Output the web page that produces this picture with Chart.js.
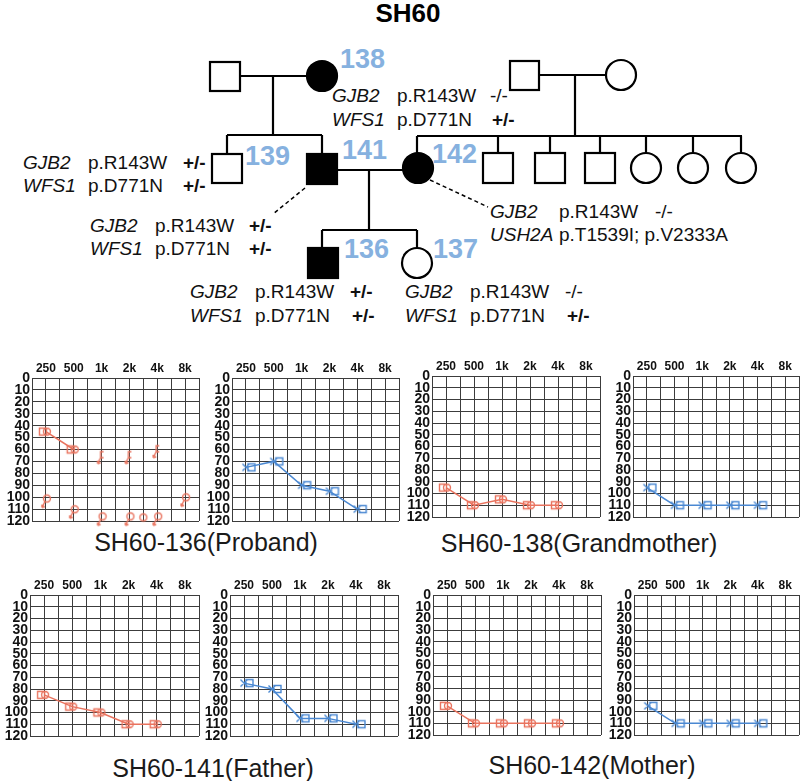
<!DOCTYPE html>
<html>
<head>
<meta charset="utf-8">
<script src="https://cdn.jsdelivr.net/npm/chart.js@4.4.1/dist/chart.umd.min.js"></script>
<style>
body { margin: 0; background: #fff; }
#page { position: relative; width: 800px; height: 781px; overflow: hidden; font-family: "Liberation Sans", Arial, sans-serif; }
#page svg { position: absolute; left: 0; top: 0; }
#page canvas { position: absolute; }
.g { font-style: italic; }
.b { font-weight: bold; }
.id { font-weight: bold; font-size: 27px; fill: #86b1df; }
</style>
</head>
<body>
<div id="page">
<svg width="800" height="781" font-family="Liberation Sans, Arial, sans-serif">
  <text x="408" y="22" text-anchor="middle" font-size="26" font-weight="bold">SH60</text>

  <g stroke="#000" stroke-width="2.2" fill="none">
    <!-- generation I -->
    <rect x="210" y="62" width="30" height="29" fill="#fff"/>
    <circle cx="322" cy="76" r="15" fill="#000"/>
    <line x1="240" y1="76" x2="307" y2="76"/>
    <line x1="273" y1="76" x2="273" y2="135"/>
    <line x1="227" y1="135" x2="322" y2="135"/>
    <line x1="227" y1="135" x2="227" y2="154"/>
    <line x1="322" y1="135" x2="322" y2="154"/>

    <rect x="510" y="61" width="29" height="29" fill="#fff"/>
    <circle cx="621" cy="75" r="15" fill="#fff"/>
    <line x1="539" y1="75" x2="606" y2="75"/>
    <line x1="575" y1="75" x2="575" y2="136"/>
    <line x1="417" y1="136" x2="742" y2="136"/>
    <line x1="417" y1="136" x2="417" y2="153"/>
    <line x1="498" y1="136" x2="498" y2="153"/>
    <line x1="550" y1="136" x2="550" y2="153"/>
    <line x1="600" y1="136" x2="600" y2="153"/>
    <line x1="646" y1="136" x2="646" y2="153"/>
    <line x1="693" y1="136" x2="693" y2="153"/>
    <line x1="741" y1="136" x2="741" y2="153"/>

    <!-- generation II -->
    <rect x="212" y="154" width="30" height="29" fill="#fff"/>
    <rect x="307" y="154" width="30" height="30" fill="#000"/>
    <circle cx="418" cy="168" r="15" fill="#000"/>
    <rect x="483" y="153" width="30" height="30" fill="#fff"/>
    <rect x="535" y="153" width="30" height="30" fill="#fff"/>
    <rect x="585" y="153" width="30" height="30" fill="#fff"/>
    <circle cx="646" cy="168" r="15" fill="#fff"/>
    <circle cx="693" cy="168" r="15" fill="#fff"/>
    <circle cx="741" cy="168" r="15" fill="#fff"/>
    <line x1="337" y1="170" x2="403" y2="170"/>
    <line x1="369" y1="170" x2="369" y2="230"/>
    <line x1="322" y1="230" x2="417" y2="230"/>
    <line x1="322" y1="230" x2="322" y2="248"/>
    <line x1="417" y1="230" x2="417" y2="248"/>

    <!-- generation III -->
    <rect x="308" y="248" width="30" height="30" fill="#000"/>
    <circle cx="417" cy="263" r="15" fill="#fff"/>

    <line x1="305" y1="188" x2="273" y2="214" stroke-width="1.5" stroke-dasharray="4,3"/>
    <line x1="430" y1="180" x2="488" y2="207" stroke-width="1.5" stroke-dasharray="4,3"/>
  </g>

  <text class="id" x="340" y="68">138</text>
  <text class="id" x="245" y="165">139</text>
  <text class="id" x="342" y="159">141</text>
  <text class="id" x="432" y="163">142</text>
  <text class="id" x="344" y="258">136</text>
  <text class="id" x="433" y="258">137</text>

  <g font-size="19" fill="#111">
    <text class="g" x="332" y="102">GJB2</text><text x="397" y="102">p.R143W</text><text x="490" y="102">-/-</text>
    <text class="g" x="332" y="126">WFS1</text><text x="397" y="126">p.D771N</text><text class="b" x="492" y="126">+/-</text>

    <text class="g" x="23" y="169">GJB2</text><text x="88" y="169">p.R143W</text><text class="b" x="183" y="169">+/-</text>
    <text class="g" x="23" y="192">WFS1</text><text x="88" y="192">p.D771N</text><text class="b" x="183" y="192">+/-</text>

    <text class="g" x="90" y="232">GJB2</text><text x="155" y="232">p.R143W</text><text class="b" x="249" y="232">+/-</text>
    <text class="g" x="90" y="255">WFS1</text><text x="155" y="255">p.D771N</text><text class="b" x="249" y="255">+/-</text>

    <text class="g" x="490" y="218">GJB2</text><text x="559" y="218">p.R143W</text><text x="655" y="218">-/-</text>
    <text class="g" x="490" y="241">USH2A</text><text x="559" y="241">p.T1539I; p.V2333A</text>

    <text class="g" x="190" y="298">GJB2</text><text x="255" y="298">p.R143W</text><text class="b" x="350" y="298">+/-</text>
    <text class="g" x="190" y="322">WFS1</text><text x="255" y="322">p.D771N</text><text class="b" x="352" y="322">+/-</text>

    <text class="g" x="405" y="298">GJB2</text><text x="470" y="298">p.R143W</text><text x="565" y="298">-/-</text>
    <text class="g" x="405" y="322">WFS1</text><text x="470" y="322">p.D771N</text><text class="b" x="567" y="322">+/-</text>
  </g>

  <g font-size="25" fill="#1a1a1a" text-anchor="middle">
    <text x="206" y="551">SH60-136(Proband)</text>
    <text x="579" y="552">SH60-138(Grandmother)</text>
    <text x="213" y="777">SH60-141(Father)</text>
    <text x="592" y="774">SH60-142(Mother)</text>
  </g>
</svg>
<canvas id="a136R"></canvas>
<canvas id="a136L"></canvas>
<canvas id="a138R"></canvas>
<canvas id="a138L"></canvas>
<canvas id="a141R"></canvas>
<canvas id="a141L"></canvas>
<canvas id="a142R"></canvas>
<canvas id="a142L"></canvas>
</div>

<script>
// frequencies, placed by octave from 250 Hz (3k sits between 2k and 4k)
const freqs = ['250', '500', '1k', '2k', '3k', '4k', '8k'];
const freqPos = [0, 1, 2, 3, 3.5, 4, 5];
const tickLabels = ['250', '500', '1k', '2k', '4k', '8k'];

// hearing thresholds, dB HL (null = not tested)
const p136R = [45, 60, null, null, null, null, null];
const p136R_bone = [null, null, 66, 66, null, 61, null];
const p136R_noResp = [102, 111, 117, 117, null, 117, 101];
const p136R_plain = [null, null, null, null, 117, null, null];
const p136L = [75, 70, 90, 95, null, 110, null];
const p138R = [95, 110, 105, 110, null, 110, null];
const p138L = [95, 110, 110, 110, null, 110, null];
const p141R = [85, 95, 100, 110, null, 110, null];
const p141L = [75, 80, 105, 105, null, 110, null];
const p142R = [95, 110, 110, 110, null, 110, null];
const p142L = [95, 110, 110, 110, null, 110, null];

const RED = '#e9735e';
const BLUE = '#4a88d2';
const GRID = '#3c3c3c';

Chart.defaults.font.family = '"Liberation Sans", Arial, sans-serif';

function pts(vals) {
    return freqPos.map((x, i) => ({ x: x, y: vals[i] })).filter(p => p.y != null);
}

// small symbols drawn once, used as point styles
function marker(kind, color) {
    const c = document.createElement('canvas');
    c.width = 24; c.height = 24;
    const g = c.getContext('2d');
    const m = 12;
    g.strokeStyle = color;
    g.lineWidth = 1.4;
    g.beginPath();
    if (kind === 'sqo') {
        g.rect(m - 6.5, m - 3.5, 7, 7);
        g.moveTo(m + 4.5, m);
        g.arc(m + 1, m, 3.5, 0, Math.PI * 2);
    } else if (kind === 'xsq') {
        g.moveTo(m - 3.5, m - 3.5); g.lineTo(m + 3.5, m + 3.5);
        g.moveTo(m + 3.5, m - 3.5); g.lineTo(m - 3.5, m + 3.5);
        g.rect(m + 2, m - 3.5, 7, 7);
    } else if (kind === 'brk') {
        g.moveTo(m + 2, m - 5); g.lineTo(m - 1, m - 5); g.lineTo(m - 1, m + 1); g.lineTo(m + 2, m + 1);
        g.moveTo(m - 1, m + 1); g.lineTo(m - 4, m + 7);
        g.moveTo(m - 4, m + 7); g.lineTo(m - 4, m + 4);
        g.moveTo(m - 4, m + 7); g.lineTo(m - 1, m + 6);
    } else if (kind === 'nr') {
        g.moveTo(m + 4.5, m - 1);
        g.arc(m + 1, m - 1, 3.5, 0, Math.PI * 2);
        g.moveTo(m - 1, m + 2); g.lineTo(m - 4, m + 8);
        g.moveTo(m - 4, m + 8); g.lineTo(m - 4, m + 5);
        g.moveTo(m - 4, m + 8); g.lineTo(m - 1, m + 7);
    } else {
        g.moveTo(m + 3.5, m);
        g.arc(m, m, 3.5, 0, Math.PI * 2);
    }
    g.stroke();
    return c;
}

function airSet(vals, color, kind) {
    return {
        data: pts(vals), borderColor: color, borderWidth: 1.5, fill: false,
        pointStyle: marker(kind, color), pointRadius: 4, showLine: true, clip: false
    };
}

function markSet(vals, color, kind) {
    return {
        data: pts(vals), borderColor: color, showLine: false,
        pointStyle: marker(kind, color), pointRadius: 4, clip: false
    };
}

const panels = [
    { id: 'a136R', box: [32, 378, 199, 521], sets: [
        airSet(p136R, RED, 'sqo'), markSet(p136R_bone, RED, 'brk'),
        markSet(p136R_noResp, RED, 'nr'), markSet(p136R_plain, RED, 'o')] },
    { id: 'a136L', box: [232, 378, 399, 521], sets: [airSet(p136L, BLUE, 'xsq')] },
    { id: 'a138R', box: [432, 376, 600, 517], sets: [airSet(p138R, RED, 'sqo')] },
    { id: 'a138L', box: [633, 376, 799, 517], sets: [airSet(p138L, BLUE, 'xsq')] },
    { id: 'a141R', box: [30, 595, 199, 736], sets: [airSet(p141R, RED, 'sqo')] },
    { id: 'a141L', box: [230, 595, 398, 736], sets: [airSet(p141L, BLUE, 'xsq')] },
    { id: 'a142R', box: [433, 595, 601, 735], sets: [airSet(p142R, RED, 'sqo')] },
    { id: 'a142L', box: [634, 595, 799, 735], sets: [airSet(p142L, BLUE, 'xsq')] }
];

const YW = 34, XH = 20, PADR = 6, PADB = 14;

panels.forEach(p => {
    const [L, T, R, B] = p.box;
    const cv = document.getElementById(p.id);
    cv.width = R - L + YW + PADR;
    cv.height = B - T + XH + PADB;
    cv.style.left = (L - YW) + 'px';
    cv.style.top = (T - XH) + 'px';

    new Chart(cv, {
        type: 'line',
        data: { datasets: p.sets },
        options: {
            responsive: false,
            animation: false,
            layout: { padding: { left: 0, top: 0, right: PADR, bottom: PADB } },
            plugins: { legend: { display: false }, tooltip: { enabled: false } },
            scales: {
                x: {
                    type: 'linear', position: 'top', min: -0.5, max: 5.5,
                    afterFit: s => { s.height = XH; },
                    ticks: {
                        stepSize: 0.5, autoSkip: false, maxRotation: 0, padding: 2,
                        color: '#111', font: { size: 12, weight: 'bold' },
                        callback: v => Number.isInteger(v) ? tickLabels[v] : ''
                    },
                    grid: { color: GRID, lineWidth: 1, drawTicks: false },
                    border: { color: GRID }
                },
                y: {
                    reverse: true, min: 0, max: 120,
                    afterFit: s => { s.width = YW; },
                    ticks: {
                        stepSize: 10, autoSkip: false, padding: 2, color: '#111',
                        font: { size: 14, weight: 'bold', lineHeight: 1 }
                    },
                    grid: { color: GRID, lineWidth: 1, drawTicks: false },
                    border: { color: GRID }
                }
            }
        }
    });
});
</script>
</body>
</html>
